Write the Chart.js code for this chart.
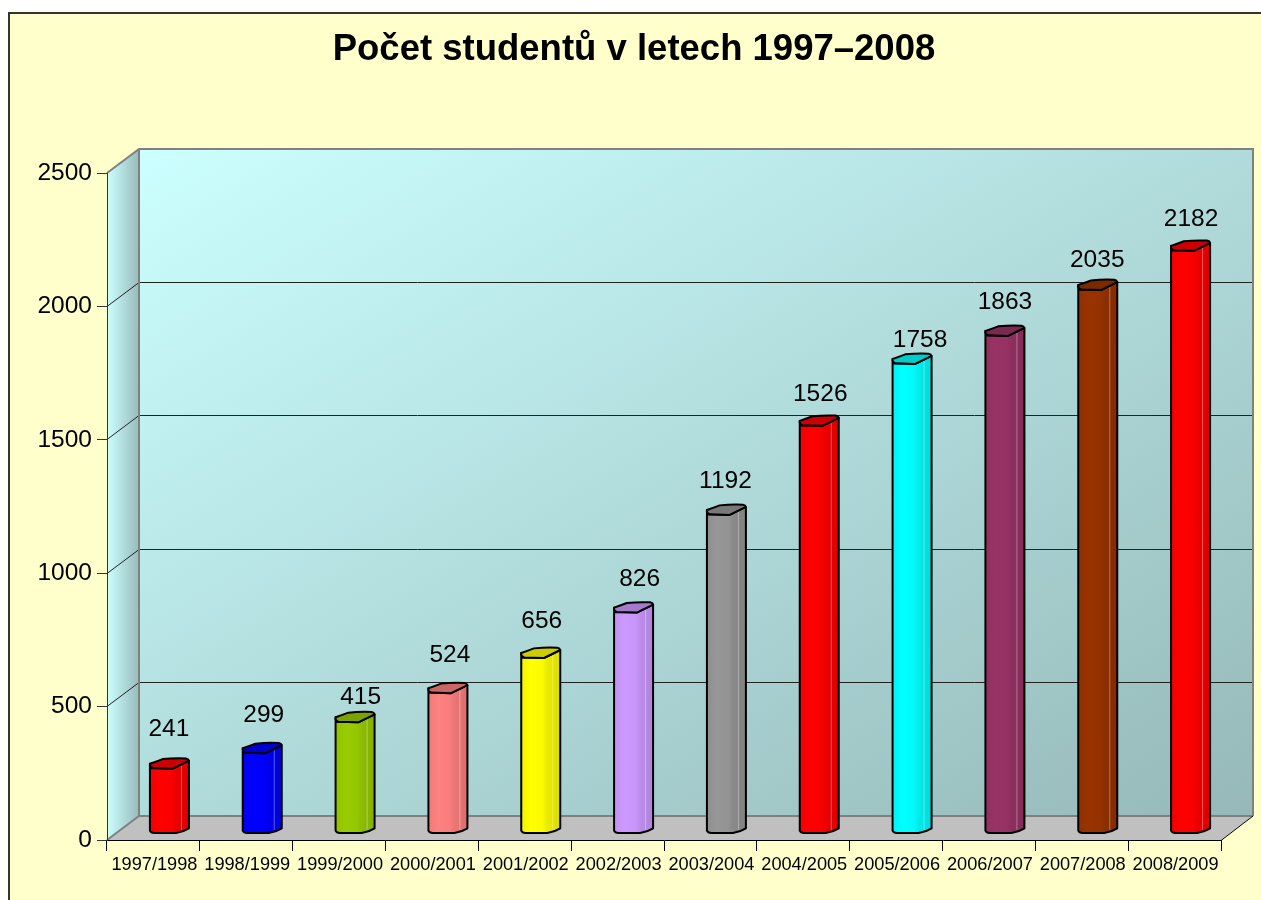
<!DOCTYPE html>
<html><head><meta charset="utf-8">
<style>html,body{margin:0;padding:0;background:#fff;overflow:hidden}canvas{display:block}</style>
<script src="https://cdn.jsdelivr.net/npm/chart.js@4"></script></head>
<body><canvas id="c" width="1261" height="900" style="width:1261px;height:900px"></canvas>
<script>
const categories = ['1997/1998','1998/1999','1999/2000','2000/2001','2001/2002','2002/2003','2003/2004','2004/2005','2005/2006','2006/2007','2007/2008','2008/2009'];
const students = [241,299,415,524,656,826,1192,1526,1758,1863,2035,2182];
const barColors = ['#FF0000','#0000FF','#99CC00','#FF8080','#FFFF00','#CC99FF','#969696','#FF0000','#00FFFF','#993366','#993300','#FF0000'];
const labelLift = [40,39,26,39,38,34,35,33,25,35,31,33];
const labelShift = [0,2,6,2.5,1.5,6.5,-0.5,1.5,8.5,0.5,0,1];
const yTicks = [0,500,1000,1500,2000,2500];
const titleText = 'Počet studentů v letech 1997–2008';

const DX = 32, DY = -24;
function shade(hex, f){
  const n = parseInt(hex.slice(1),16);
  const c = [(n>>16)&255,(n>>8)&255,n&255].map(v=>Math.round(v*f));
  return `rgb(${c[0]},${c[1]},${c[2]})`;
}
const scene = {
  id:'scene',
  afterLayout(chart){
    // the title centres on the whole frame, not on the plot
    if(chart.titleBlock){ chart.titleBlock.right = chart.width; }
  },
  beforeDraw(chart){
    const {ctx, chartArea:a, scales:{y}} = chart;
    const L=a.left,R=a.right,T=a.top,B=a.bottom;
    ctx.save();
    ctx.fillStyle='#fff'; ctx.fillRect(0,0,chart.width,chart.height);
    ctx.fillStyle='#FFFFCC'; ctx.fillRect(9,13,chart.width-9,chart.height-13);
    ctx.strokeStyle='#333'; ctx.lineWidth=2;
    ctx.beginPath(); ctx.moveTo(9,chart.height); ctx.lineTo(9,13); ctx.lineTo(chart.width,13); ctx.stroke();
    // back wall: diagonal gradient in the wall's own unit square
    ctx.save();
    ctx.translate(L+DX,T+DY); ctx.scale(R-L,B-T);
    let g=ctx.createLinearGradient(0,0,1,1);
    g.addColorStop(0,'#CCFFFF'); g.addColorStop(1,'#96B8B8');
    ctx.fillStyle=g; ctx.fillRect(0,0,1,1);
    ctx.restore();
    // side wall
    g=ctx.createLinearGradient(L,0,L+DX,0);
    g.addColorStop(0,'#CCFFFF'); g.addColorStop(1,'#99BBBB');
    ctx.fillStyle=g;
    ctx.beginPath(); ctx.moveTo(L,T); ctx.lineTo(L+DX,T+DY); ctx.lineTo(L+DX,B+DY); ctx.lineTo(L,B); ctx.closePath(); ctx.fill();
    // floor
    ctx.fillStyle='#C0C0C0';
    ctx.beginPath(); ctx.moveTo(L,B); ctx.lineTo(L+DX,B+DY); ctx.lineTo(R+DX,B+DY); ctx.lineTo(R,B); ctx.closePath(); ctx.fill();
    // gridlines
    ctx.strokeStyle='#222'; ctx.lineWidth=1;
    yTicks.slice(1,-1).forEach(v=>{
      const p=Math.floor(y.getPixelForValue(v))+0.5;
      ctx.beginPath(); ctx.moveTo(L,p); ctx.lineTo(L+DX,p+DY); ctx.lineTo(R+DX,p+DY); ctx.stroke();
    });
    // wall borders
    ctx.strokeStyle='#808080'; ctx.lineWidth=2;
    ctx.beginPath();
    ctx.moveTo(L,T); ctx.lineTo(L+DX,T+DY); ctx.lineTo(R+DX,T+DY); ctx.lineTo(R+DX,B+DY);
    ctx.moveTo(L+DX,T+DY); ctx.lineTo(L+DX,B+DY);
    ctx.moveTo(L,B); ctx.lineTo(L+DX,B+DY); ctx.lineTo(R+DX,B+DY);
    ctx.stroke();
    ctx.strokeStyle='#000'; ctx.lineWidth=1;
    ctx.beginPath(); ctx.moveTo(R,B+0.5); ctx.lineTo(R+DX,B+DY); ctx.stroke();
    ctx.restore();
  },
  beforeDatasetDraw(chart,args){
    const ctx=chart.ctx;
    ctx.save();
    ctx.lineJoin='round';
    args.meta.data.forEach((el,i)=>{
      const col=el.options.backgroundColor;
      const p=el.getProps(['x','y','base','width'],true);
      const xL=p.x-p.width/2+10.5, W=39, xR=xL+W, yT=p.y-7, yB=p.base-6.5;
      const body=new Path2D();
      body.moveTo(xL,yT-5); body.lineTo(xL,yB-2.3);
      body.quadraticCurveTo(xL+1,yB,xL+4.3,yB); body.lineTo(xL+26,yB);
      body.quadraticCurveTo(xL+33,yB-1,xR,yB-4.7);
      body.lineTo(xR,yT-8); body.lineTo(xL+22.7,yT); body.lineTo(xL+1,yT-0.6); body.closePath();
      const g=ctx.createLinearGradient(xL,0,xR,0);
      g.addColorStop(0,shade(col,0.95)); g.addColorStop(0.25,shade(col,1)); g.addColorStop(0.55,shade(col,0.98));
      g.addColorStop(0.66,shade(col,0.92)); g.addColorStop(1,shade(col,0.86));
      ctx.fillStyle=g; ctx.fill(body);
      // light edge on the side of the column
      ctx.strokeStyle='rgba(255,255,255,0.35)'; ctx.lineWidth=1;
      ctx.beginPath(); ctx.moveTo(xL+31.5,yT-3); ctx.lineTo(xL+31.5,yB-3); ctx.stroke();
      ctx.strokeStyle='#000'; ctx.lineWidth=2; ctx.stroke(body);
      const top=new Path2D();
      top.moveTo(xL,yT-5);
      top.quadraticCurveTo(xL+6,yT-7,xL+12.7,yT-9.6);
      top.quadraticCurveTo(xL+24,yT-10.8,xL+36,yT-10.3);
      top.quadraticCurveTo(xL+38.5,yT-9.8,xR,yT-8);
      top.lineTo(xL+22.7,yT); top.lineTo(xL+3,yT-0.6);
      top.quadraticCurveTo(xL-0.5,yT-1.5,xL,yT-5); top.closePath();
      ctx.fillStyle=shade(col,0.8); ctx.fill(top); ctx.stroke(top);
      // value label
      ctx.fillStyle='#000'; ctx.font='24.5px "Liberation Sans"'; ctx.textAlign='center'; ctx.textBaseline='middle';
      ctx.fillText(String(students[i]),xL+W/2-0.5+labelShift[i],yT-labelLift[i]+1);
    });
    ctx.restore();
    return false;
  }
};

new Chart(document.getElementById('c'),{
  type:'bar',
  data:{labels:categories,datasets:[{data:students,backgroundColor:barColors,barThickness:28}]},
  plugins:[scene],
  options:{
    responsive:false, animation:false,
    devicePixelRatio:1,
    layout:{autoPadding:false,padding:{left:7,right:40,top:0,bottom:0}},
    plugins:{
      legend:{display:false},tooltip:{enabled:false},
      title:{display:true,text:titleText,color:'#000',
        font:{family:'"Liberation Sans"',size:36.5,weight:'bold',lineHeight:1.2},
        padding:{top:28,bottom:101.2}}
    },
    scales:{
      x:{type:'category',offset:true,
        afterFit(s){s.height=60;},
        grid:{offset:true,drawOnChartArea:false,drawTicks:true,tickLength:11,tickColor:'#000',tickWidth:1},
        border:{display:true,color:'#000',width:1},
        ticks:{autoSkip:false,maxRotation:0,minRotation:0,padding:3,labelOffset:1,color:'#000',font:{family:'"Liberation Sans"',size:18.2}}},
      y:{type:'linear',min:0,max:2500,
        afterFit(s){s.width=100;},
        afterBuildTicks(s){s.ticks=yTicks.map(v=>({value:v}));},
        grid:{drawOnChartArea:false,drawTicks:true,tickLength:10,tickColor:'#333',tickWidth:1},
        border:{display:true,color:'#333',width:1},
        ticks:{padding:5,color:'#000',callback:v=>String(v),font:{family:'"Liberation Sans"',size:24.5}}}
    }
  }
});
</script></body></html>
